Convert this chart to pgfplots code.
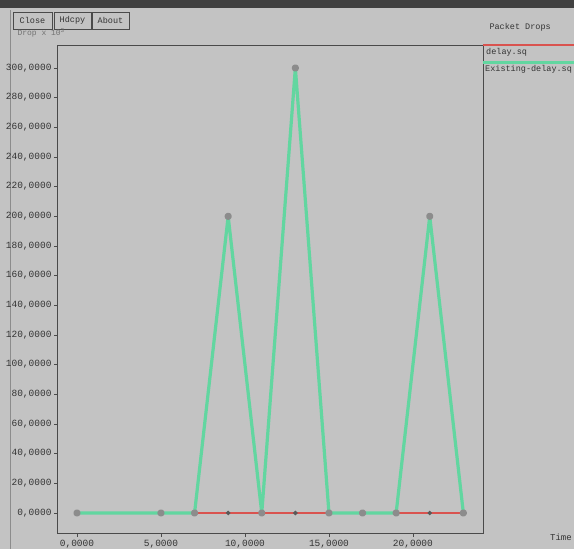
\documentclass[border=0pt]{standalone}
\usepackage{pgfplots}
\pgfplotsset{compat=1.18}
\usepackage{fontspec}
\setmainfont{Liberation Sans}
\setmonofont{Liberation Mono}
\definecolor{bg}{HTML}{C3C3C3}
\definecolor{gline}{HTML}{62D6A0}
\definecolor{rline}{HTML}{D9534F}
\definecolor{frame}{HTML}{4A4A4A}
\begin{document}
\begin{tikzpicture}[x=1pt,y=1pt]
\useasboundingbox (0,0) rectangle (574,-549);
\clip (0,0) rectangle (574,-549);
\fill[bg] (0,0) rectangle (574,-549);
\fill[black!75] (0,0) rectangle (574,-8);
\draw[black!45, line width=1] (10,-10) -- (10,-549);
\foreach \x/\w/\t in {13/39/Close,54/37/Hdcpy,92/37/About} {
  \draw[frame, line width=1] (\x,-12) rectangle ++(\w,-17);
  \node[font=\ttfamily\fontsize{8.5}{9}\selectfont, text=black!80] at (\x+\w/2,-20.5) {\t};
}
\node[anchor=west, font=\ttfamily\fontsize{8}{9}\selectfont, text=black!55] at (14,-33) {Drop x 10\textsuperscript{3}};
\begin{axis}[at={(58pt,-533pt)}, anchor=south west, scale only axis,
  width=425pt, height=488pt,
  xmin=-1.13, xmax=24.17, ymin=-13.5, ymax=315.5,
  axis line style={frame, line width=1pt},
  tick style={frame, line width=0.8pt},
  tick align=outside, major tick length=4pt,
  xtick pos=bottom, ytick pos=left,
  xtick={0,5,10,15,20},
  xticklabels={{0,0000},{5,0000},{10,0000},{15,0000},{20,0000}},
  ytick={0,20,40,60,80,100,120,140,160,180,200,220,240,260,280,300},
  yticklabels={{0,0000},{20,0000},{40,0000},{60,0000},{80,0000},{100,0000},{120,0000},{140,0000},{160,0000},{180,0000},{200,0000},{220,0000},{240,0000},{260,0000},{280,0000},{300,0000}},
  ticklabel style={font=\ttfamily\fontsize{9.5}{10}\selectfont, text=black!80},
  yticklabel style={xshift=1pt},
  clip=false]
\addplot[rline, line width=1.6pt, mark=*, mark size=1.3pt, mark options={fill=black!65, draw=black!65}]
  coordinates {(0,0)(5,0)(7,0)(9,0)(11,0)(13,0)(15,0)(17,0)(19,0)(21,0)(23,0)};
\addplot[gline, line width=3.2pt, line join=round, mark=*, mark size=2pt, mark options={fill=black!45, draw=black!45}]
  coordinates {(0,0)(5,0)(7,0)(9,200)(11,0)(13,300)(15,0)(17,0)(19,0)(21,200)(23,0)};
\end{axis}
\node[anchor=west, font=\ttfamily\fontsize{8.5}{9}\selectfont, text=black!80] at (486,-27) {Packet Drops};
\draw[rline, line width=1.5] (483,-45) -- (574,-45);
\node[anchor=west, font=\ttfamily\fontsize{8.5}{9}\selectfont, text=black!80, inner sep=1pt] at (485,-52) {delay.sq};
\draw[gline, line width=3] (483,-62) -- (574,-62);
\node[anchor=west, font=\ttfamily\fontsize{8.5}{9}\selectfont, text=black!80, inner sep=1pt] at (484,-69) {Existing-delay.sq};
\node[anchor=east, font=\ttfamily\fontsize{9}{10}\selectfont, text=black!80, inner sep=1pt] at (573,-537) {Time};
\end{tikzpicture}
\end{document}
